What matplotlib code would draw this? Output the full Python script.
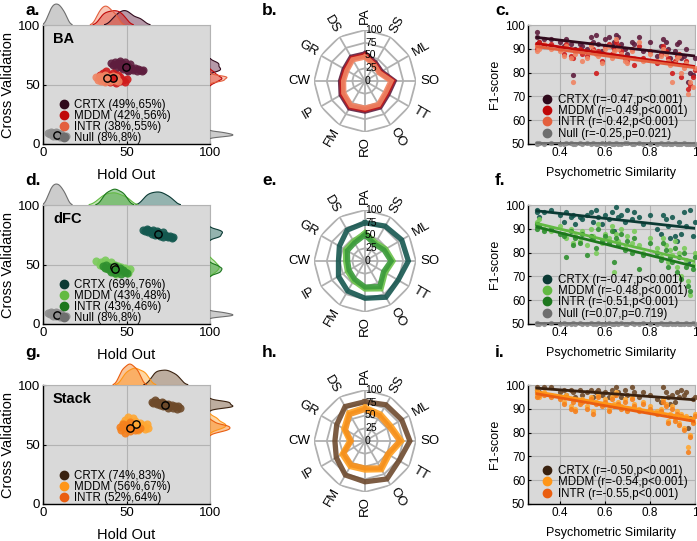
import numpy as np
import matplotlib
matplotlib.use('Agg')
import matplotlib.pyplot as plt
from matplotlib.lines import Line2D

plt.rcParams['font.family'] = ['Liberation Sans', 'DejaVu Sans']

W, H = 697, 541

# ---------------- data ----------------
domains = ['PA', 'SS', 'ML', 'SO', 'TT', 'OO', 'RO', 'FM', 'IP', 'CW', 'GR', 'DS']

# hold out / cross validation clouds (%)
ba_crtx_ho = [41, 42, 43, 44, 44, 45, 46, 46, 47, 47, 48, 48, 49, 49, 50, 50, 51, 51, 52, 52, 53, 54, 55, 56, 57, 58, 59, 60]
ba_crtx_cv = [68, 66, 69, 67, 64, 68, 66, 70, 65, 68, 63, 67, 64, 69, 62, 66, 65, 61, 64, 67, 63, 62, 64, 61, 63, 62, 61, 62]
ba_mddm_ho = [34, 35, 36, 37, 37, 38, 39, 40, 40, 41, 42, 42, 43, 44, 44, 45, 46, 46, 47, 48, 49, 50]
ba_mddm_cv = [58, 55, 60, 53, 57, 61, 55, 58, 52, 56, 60, 54, 57, 51, 55, 58, 53, 56, 55, 54, 52, 55]
ba_intr_ho = [32, 33, 34, 35, 35, 36, 37, 37, 38, 38, 39, 40, 40, 41, 42, 43, 44, 45]
ba_intr_cv = [56, 54, 57, 53, 56, 55, 58, 52, 55, 57, 54, 56, 53, 55, 57, 54, 56, 53]
null_ho = [3, 4, 5, 6, 6, 7, 8, 8, 9, 10, 10, 11, 12, 13, 14]
null_cv = [9, 8, 10, 7, 9, 8, 10, 7, 9, 8, 6, 8, 7, 6, 7]

dfc_crtx_ho = [60, 61, 62, 63, 63, 64, 65, 66, 66, 67, 68, 68, 69, 70, 70, 71, 72, 72, 73, 74, 75, 76, 77, 78]
dfc_crtx_cv = [79, 78, 80, 77, 79, 78, 76, 79, 77, 75, 78, 76, 77, 74, 76, 75, 77, 73, 75, 74, 73, 74, 72, 73]
dfc_mddm_ho = [32, 34, 35, 36, 37, 38, 38, 39, 40, 41, 42, 42, 43, 44, 44, 45, 46, 47, 48, 49, 50, 51, 52]
dfc_mddm_cv = [53, 50, 52, 49, 54, 47, 51, 49, 45, 52, 48, 44, 50, 47, 42, 49, 46, 48, 44, 47, 45, 43, 46]
dfc_intr_ho = [36, 37, 38, 39, 40, 41, 42, 43, 43, 44, 45, 46, 47, 48, 49, 50]
dfc_intr_cv = [49, 47, 50, 46, 48, 44, 47, 49, 43, 46, 45, 47, 42, 45, 44, 43]

stk_crtx_ho = [65, 66, 67, 68, 68, 69, 70, 71, 72, 72, 73, 74, 75, 75, 76, 77, 78, 79, 80, 81, 82]
stk_crtx_cv = [86, 85, 87, 84, 86, 85, 83, 86, 82, 85, 84, 83, 81, 84, 82, 83, 81, 82, 80, 82, 81]
stk_mddm_ho = [48, 49, 50, 51, 52, 53, 54, 55, 55, 56, 57, 58, 59, 60, 61, 62, 63]
stk_mddm_cv = [68, 71, 65, 73, 69, 66, 72, 64, 70, 67, 62, 68, 65, 66, 63, 67, 64]
stk_intr_ho = [46, 47, 48, 49, 50, 51, 52, 52, 53, 54, 55, 56, 57, 58]
stk_intr_cv = [65, 62, 67, 60, 66, 63, 69, 61, 64, 66, 62, 65, 63, 64]

# radar profiles (F1 per domain)
ba_crtx_rad = [53, 41, 37, 57, 52, 59, 59, 61, 54, 48, 47, 54]
ba_mddm_rad = [50, 38, 34, 54, 49, 56, 56, 58, 51, 45, 44, 51]
ba_intr_rad = [47, 36, 32, 51, 46, 53, 53, 55, 48, 42, 41, 48]
dfc_crtx_rad = [75, 79, 83, 85, 75, 82, 73, 68, 60, 52, 58, 70]
dfc_mddm_rad = [55, 42, 47, 55, 46, 63, 55, 45, 40, 38, 44, 45]
dfc_intr_rad = [51, 38, 43, 51, 42, 58, 51, 41, 36, 34, 40, 41]
stk_crtx_rad = [77, 82, 83, 88, 77, 86, 80, 77, 65, 59, 64, 78]
stk_mddm_rad = [66, 61, 59, 72, 55, 65, 57, 58, 52, 30, 48, 64]
stk_intr_rad = [62, 57, 55, 68, 51, 61, 53, 54, 48, 27, 44, 60]

# psychometric similarity vs F1
psim = [0.30, 0.30, 0.31, 0.33, 0.36, 0.40, 0.42, 0.43, 0.45, 0.46, 0.47, 0.49, 0.50, 0.52, 0.54, 0.55, 0.56,
        0.57, 0.59, 0.60, 0.62, 0.63, 0.64, 0.65, 0.66, 0.67, 0.69, 0.70, 0.72, 0.73, 0.75, 0.77, 0.80, 0.83,
        0.85, 0.86, 0.87, 0.88, 0.89, 0.90, 0.91, 0.92, 0.93, 0.94, 0.95, 0.96, 0.97, 0.98, 0.99, 1.00]
ba_crtx_f1 = [97, 95, 93, 94, 94, 93, 91, 94, 92, 79, 90, 92, 91, 90, 95, 93, 96, 92, 89, 94, 95, 91, 93, 96, 95,
              92, 90, 88, 93, 92, 95, 89, 93, 87, 91, 94, 93, 90, 86, 84, 89, 92, 93, 86, 87, 90, 76, 80, 79, 86]
ba_mddm_f1 = [92, 90, 93, 91, 92, 90, 88, 92, 87, 86, 89, 90, 88, 87, 92, 90, 80, 89, 85, 91, 92, 88, 90, 93, 91,
              89, 86, 85, 90, 83, 91, 86, 89, 84, 88, 91, 89, 86, 84, 80, 85, 87, 88, 78, 83, 85, 73, 75, 78, 81]
ba_intr_f1 = [91, 89, 90, 92, 90, 89, 87, 91, 86, 76, 88, 89, 85, 86, 91, 89, 88, 87, 84, 90, 91, 86, 89, 94, 90,
              88, 85, 84, 89, 86, 93, 85, 88, 85, 87, 90, 88, 85, 83, 76, 84, 86, 87, 80, 82, 84, 71, 76, 74, 82]
ba_null_f1 = [50.3, 50.1, 50.4, 50.2, 50.3, 50.1, 50.2, 50.4, 50.3, 50.2, 50.1, 50.3, 50.2, 50.4, 50.1, 50.3, 50.2,
              50.1, 50.3, 50.2, 50.4, 50.1, 50.2, 50.3, 50.2, 50.1, 50.3, 50.4, 50.2, 50.1, 50.3, 50.2, 50.1, 50.2,
              50.3, 50.1, 50.2, 50.3, 50.1, 50.2, 50.3, 50.2, 50.1, 50.2, 50.3, 50.1, 50.0, 50.1, 50.2, 50.1]
dfc_crtx_f1 = [97, 98, 95, 97, 98, 96, 93, 97, 95, 96, 92, 95, 94, 96, 97, 93, 98, 95, 92, 96, 94, 97, 89, 99, 95,
               96, 93, 98, 94, 97, 95, 92, 96, 90, 88, 96, 94, 91, 86, 95, 87, 85, 93, 88, 97, 91, 76, 98, 87, 93]
dfc_mddm_f1 = [93, 91, 94, 90, 89, 91, 88, 86, 90, 84, 87, 85, 89, 83, 90, 87, 80, 92, 84, 88, 86, 91, 72, 88, 85,
               90, 82, 87, 84, 89, 83, 80, 86, 82, 78, 86, 83, 76, 81, 79, 85, 74, 80, 70, 82, 77, 68, 62, 75, 80]
dfc_intr_f1 = [92, 90, 91, 89, 90, 88, 87, 78, 89, 83, 86, 84, 88, 79, 87, 86, 82, 90, 85, 87, 84, 89, 76, 86, 83,
               88, 81, 85, 80, 86, 73, 79, 84, 80, 77, 84, 81, 74, 78, 76, 82, 72, 78, 69, 80, 74, 66, 64, 73, 78]
dfc_null_f1 = [50.2, 50.3, 50.1, 50.2, 50.4, 50.1, 50.3, 50.2, 50.1, 50.3, 50.2, 50.4, 50.1, 50.2, 50.3, 50.1, 50.2,
               50.3, 50.1, 50.2, 50.3, 50.2, 50.1, 50.3, 50.2, 50.4, 50.1, 50.2, 50.3, 50.1, 50.2, 50.3, 50.2, 50.1,
               50.3, 50.2, 50.1, 50.2, 50.3, 50.2, 50.1, 50.3, 50.2, 50.1, 50.2, 50.3, 50.2, 50.1, 50.3, 50.2]
stk_crtx_f1 = [99, 98, 97, 99, 99, 97, 98, 96, 98, 97, 95, 98, 96, 97, 98, 95, 97, 98, 96, 97, 95, 98, 96, 99, 97,
               95, 98, 96, 99, 97, 95, 97, 96, 94, 93, 99, 97, 95, 92, 96, 93, 97, 95, 98, 96, 97, 82, 86, 94, 95]
stk_mddm_f1 = [98, 96, 95, 97, 96, 95, 93, 96, 91, 94, 90, 93, 94, 91, 95, 89, 93, 96, 92, 94, 90, 95, 92, 97, 93,
               91, 94, 90, 95, 92, 90, 93, 91, 89, 90, 94, 92, 85, 88, 91, 86, 89, 84, 88, 82, 87, 74, 79, 85, 88]
stk_intr_f1 = [97, 95, 96, 96, 95, 94, 92, 95, 90, 93, 89, 92, 93, 90, 94, 88, 92, 95, 91, 93, 89, 94, 91, 96, 92,
               90, 93, 89, 94, 91, 89, 92, 90, 88, 89, 93, 91, 84, 87, 90, 85, 88, 83, 87, 81, 86, 72, 78, 84, 87]

labels_a = ['CRTX (49%,65%)', 'MDDM (42%,56%)', 'INTR (38%,55%)', 'Null (8%,8%)']
labels_d = ['CRTX (69%,76%)', 'MDDM (43%,48%)', 'INTR (43%,46%)', 'Null (8%,8%)']
labels_g = ['CRTX (74%,83%)', 'MDDM (56%,67%)', 'INTR (52%,64%)']
labels_c = ['CRTX (r=-0.47,p<0.001)', 'MDDM (r=-0.49,p<0.001)', 'INTR (r=-0.42,p<0.001)', 'Null (r=-0.25,p=0.021)']
labels_f = ['CRTX (r=-0.47,p<0.001)', 'MDDM (r=-0.48,p<0.001)', 'INTR (r=-0.51,p<0.001)', 'Null (r=0.07,p=0.719)']
labels_i = ['CRTX (r=-0.50,p<0.001)', 'MDDM (r=-0.54,p<0.001)', 'INTR (r=-0.55,p<0.001)']

# colours: (points, dark)
NULL = ('#8e8e8e', '#6e6e6e')
ba_cols = [('#5e1d3e', '#300a1c'), ('#d01c1c', '#c00808'), ('#f08462', '#e4603e'), NULL]
dfc_cols = [('#13584f', '#0b3a34'), ('#7acb5a', '#62ba42'), ('#2f902f', '#1d771d'), NULL]
stk_cols = [('#6e4a2a', '#3a2210'), ('#ffa733', '#ff9618'), ('#f5801c', '#ea5e10')]

BG = '#d9d9d9'
GRID = '#b3b3b3'


def px_axes(fig, x0, y0, x1, y1, **kw):
    return fig.add_axes([x0 / W, 1 - y1 / H, (x1 - x0) / W, (y1 - y0) / H], **kw)


def kde(vals, grid):
    vals = np.asarray(vals, float)
    bw = 0.85 * vals.std(ddof=1) * len(vals) ** (-0.2)
    z = (grid[:, None] - vals[None, :]) / bw
    return np.exp(-0.5 * z ** 2).sum(1) / (len(vals) * bw * np.sqrt(2 * np.pi))


def marginal(ax, data, cols, vertical):
    grid = np.linspace(-5, 105, 800)
    dens = [kde(d, grid) for d in data]
    top = max(d.max() for d in dens)
    for d, (c, dk) in zip(dens, cols):
        m = d > top * 0.02
        g, dd = grid[m], d[m]
        if vertical:
            ax.fill_betweenx(g, 0, dd, facecolor=c, alpha=0.45, lw=0)
            ax.plot(np.r_[0, dd, 0], np.r_[g[0], g, g[-1]], color=dk, lw=0.8)
        else:
            ax.fill_between(g, 0, dd, facecolor=c, alpha=0.45, lw=0)
            ax.plot(np.r_[g[0], g, g[-1]], np.r_[0, dd, 0], color=dk, lw=0.8)
    if vertical:
        ax.set_ylim(0, 100)
        ax.set_xlim(0, top * 1.05)
    else:
        ax.set_xlim(0, 100)
        ax.set_ylim(0, top * 1.05)
    ax.axis('off')


def style_box(ax, fs):
    ax.set_facecolor(BG)
    ax.set_axisbelow(True)
    ax.grid(True, color=GRID, lw=0.8)
    for s in ['top', 'right']:
        ax.spines[s].set_color(GRID)
        ax.spines[s].set_linewidth(0.8)
    for s in ['left', 'bottom']:
        ax.spines[s].set_color('black')
        ax.spines[s].set_linewidth(1.0)
    ax.tick_params(direction='in', length=2, labelsize=fs, pad=2)


def cloud_panel(fig, y0, name, hos, cvs, cols, labels):
    ax = px_axes(fig, 43, y0, 210, y0 + 119)
    style_box(ax, 9.5)
    for ho, cv, (c, dk) in zip(hos, cvs, cols):
        ax.scatter(ho, cv, s=34, color=c, lw=0, alpha=0.9, zorder=3)
    for ho, cv, (c, dk) in zip(hos, cvs, cols):
        ax.scatter(np.mean(ho), np.mean(cv), s=28, facecolor=c, edgecolor='black', lw=1.0, zorder=5)
    ax.set_xlim(0, 100)
    ax.set_ylim(0, 100)
    ax.set_xticks([0, 50, 100])
    ax.set_yticks([0, 50, 100])
    ax.set_xlabel('Hold Out', fontsize=10.5)
    ax.set_ylabel('Cross Validation', fontsize=10.5)
    ax.xaxis.set_label_coords(0.5, -0.2)
    ax.yaxis.set_label_coords(-0.17, 0.5)
    ax.text(0.06, 0.94, name, transform=ax.transAxes, fontsize=10.5, fontweight='bold', va='top')
    handles = [Line2D([], [], ls='', marker='o', ms=6, color=dk) for c, dk in cols]
    ax.legend(handles, labels, loc='lower left', bbox_to_anchor=(0.03, -0.08), frameon=False,
              fontsize=8.3, labelspacing=-0.08, handletextpad=0.25, handlelength=1.2, borderpad=0.3)
    top = px_axes(fig, 43, y0 - 22, 210, y0)
    marginal(top, hos, cols, False)
    right = px_axes(fig, 210, y0, 234, y0 + 119)
    marginal(right, cvs, cols, True)


def radar_panel(fig, cy, profiles, cols):
    r = 51
    ax = px_axes(fig, 365 - r, cy - r, 365 + r, cy + r, projection='polar')
    ax.set_theta_zero_location('N')
    ax.set_theta_direction(-1)
    theta = np.deg2rad(np.arange(len(domains)) * 360 / len(domains))
    tc = np.r_[theta, theta[0]]
    for lev in [25, 50, 75, 100]:
        ax.plot(tc, np.full(len(tc), lev), color='#b0b0b0', lw=1.3, zorder=1)
    for t in theta:
        ax.plot([t, t], [0, 100], color='#b0b0b0', lw=1.3, zorder=1)
    for vals, c in zip(profiles, cols):
        v = np.r_[vals, vals[0]]
        ax.plot(tc, v, color=c, lw=3.8, alpha=0.9, zorder=3, solid_joinstyle='miter')
    for lev in [0, 25, 50, 75, 100]:
        ax.text(0, lev, str(lev), fontsize=7.5, ha='left', va='center', zorder=4)
    for t, lab in zip(theta, domains):
        rot = 90 - np.rad2deg(t)
        while rot <= -90:
            rot += 180
        while rot > 90:
            rot -= 180
        ax.text(t, 128, lab, fontsize=9.5, rotation=rot, rotation_mode='anchor', ha='center', va='center')
    ax.set_ylim(0, 100)
    ax.set_xticks([])
    ax.set_yticks([])
    ax.grid(False)
    ax.spines['polar'].set_visible(False)
    ax.set_facecolor('none')


def sim_panel(fig, y0, series, cols, labels):
    ax = px_axes(fig, 528, y0, 695, y0 + 119)
    style_box(ax, 8.5)
    x = np.array(psim)
    for y, (c, dk) in zip(series, cols):
        ax.scatter(x, y, s=14, color=c, lw=0, alpha=0.9, zorder=3, clip_on=False)
    xx = np.array([x.min(), x.max()])
    for y, (c, dk) in zip(series, cols):
        k, b = np.polyfit(x, y, 1)
        ax.plot(xx, k * xx + b, color=dk, lw=2.0, zorder=4)
    ax.set_xlim(0.26, 1.0)
    ax.set_ylim(50, 100)
    ax.set_xticks([0.4, 0.6, 0.8, 1.0])
    ax.set_xticklabels(['0.4', '0.6', '0.8', '1'])
    ax.set_yticks([50, 60, 70, 80, 90, 100])
    ax.set_xlabel('Psychometric Similarity', fontsize=9)
    ax.set_ylabel('F1-score', fontsize=9)
    ax.xaxis.set_label_coords(0.5, -0.19)
    ax.yaxis.set_label_coords(-0.16, 0.5)
    handles = [Line2D([], [], ls='', marker='o', ms=6, color=dk) for c, dk in cols]
    ax.legend(handles, labels, loc='lower left', bbox_to_anchor=(0.02, -0.04), frameon=False,
              fontsize=8.3, labelspacing=-0.08, handletextpad=0.3, handlelength=1.2, borderpad=0.3)


fig = plt.figure(figsize=(W / 100, H / 100), dpi=100)

cloud_panel(fig, 25, 'BA', [ba_crtx_ho, ba_mddm_ho, ba_intr_ho, null_ho],
            [ba_crtx_cv, ba_mddm_cv, ba_intr_cv, null_cv], ba_cols, labels_a)
cloud_panel(fig, 205, 'dFC', [dfc_crtx_ho, dfc_mddm_ho, dfc_intr_ho, null_ho],
            [dfc_crtx_cv, dfc_mddm_cv, dfc_intr_cv, null_cv], dfc_cols, labels_d)
cloud_panel(fig, 385, 'Stack', [stk_crtx_ho, stk_mddm_ho, stk_intr_ho],
            [stk_crtx_cv, stk_mddm_cv, stk_intr_cv], stk_cols, labels_g)

radar_panel(fig, 81, [ba_crtx_rad, ba_mddm_rad, ba_intr_rad], ['#5e1d3e', '#c81818', '#f08462'])
radar_panel(fig, 261, [dfc_crtx_rad, dfc_mddm_rad, dfc_intr_rad], ['#16564f', '#6cc24a', '#3a9a3a'])
radar_panel(fig, 441, [stk_crtx_rad, stk_mddm_rad, stk_intr_rad], ['#6e4a2e', '#ffa020', '#f5901c'])

sim_panel(fig, 25, [ba_crtx_f1, ba_mddm_f1, ba_intr_f1, ba_null_f1], ba_cols, labels_c)
sim_panel(fig, 205, [dfc_crtx_f1, dfc_mddm_f1, dfc_intr_f1, dfc_null_f1], dfc_cols, labels_f)
sim_panel(fig, 385, [stk_crtx_f1, stk_mddm_f1, stk_intr_f1], stk_cols, labels_i)

for lab, x, y in [('a.', 25, 15), ('b.', 262, 15), ('c.', 495, 15),
                  ('d.', 25, 185), ('e.', 262, 185), ('f.', 495, 185),
                  ('g.', 25, 357), ('h.', 262, 357), ('i.', 495, 357)]:
    fig.text(x / W, 1 - y / H, lab, fontsize=12.5, fontweight='bold', va='baseline', ha='left')

fig.savefig('out.png', dpi=100)
